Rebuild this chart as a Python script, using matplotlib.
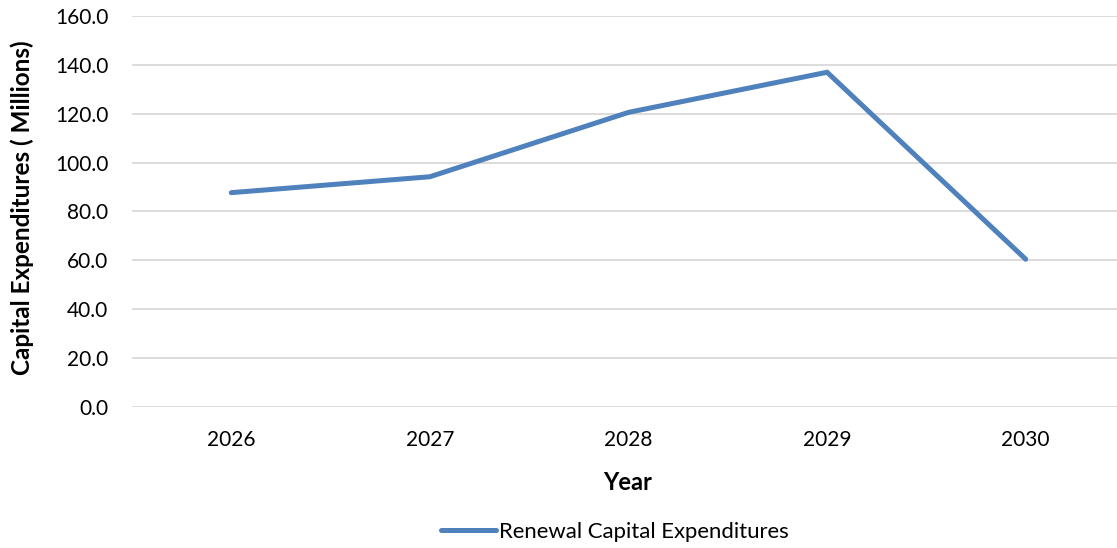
import matplotlib
matplotlib.use("Agg")
import matplotlib.pyplot as plt

# Данные
years = ["2026", "2027", "2028", "2029", "2030"]
renewal_capex = [87.7, 94.2, 120.5, 136.9, 60.5]
y_ticks = [0, 20, 40, 60, 80, 100, 120, 140, 160]

plt.rcParams["font.family"] = ["Lato", "DejaVu Sans"]

W, H = 1117, 548
fig = plt.figure(figsize=(W / 100, H / 100), dpi=100)
ax = fig.add_axes([132 / W, (H - 407.3) / H, (1125 - 132) / W, 391.6 / H])

x = list(range(len(years)))
ax.plot(x, renewal_capex, color="#4F81BD", lw=3.6, solid_capstyle="round",
        solid_joinstyle="miter", label="Renewal Capital Expenditures")

ax.set_xlim(-0.5, len(years) - 0.5)
ax.set_ylim(0, 160)
ax.set_yticks(y_ticks)
ax.set_yticklabels([f"{v:.1f}" for v in y_ticks])
ax.set_xticks(x)
ax.set_xticklabels(years)
ax.grid(axis="y", color="#D9D9D9", lw=1.3)
ax.set_axisbelow(True)
for s in ax.spines.values():
    s.set_visible(False)
ax.tick_params(axis="both", length=0, labelsize=15, colors="#000000")
ax.tick_params(axis="x", pad=16)
ax.tick_params(axis="y", pad=17)

fig.text(22 / W, 1 - 208 / H, "Capital Expenditures ( Millions)", rotation=90,
         ha="center", va="center", fontsize=17.5, fontweight="bold")
fig.text(628 / W, 1 - 483 / H, "Year", ha="center", va="center",
         fontsize=17, fontweight="bold")

fig.legend(loc="center", bbox_to_anchor=(615 / W, 1 - 532 / H), frameon=False,
           fontsize=15.9, handlelength=2.5, handletextpad=0.15)

fig.savefig("out.png", dpi=100)
